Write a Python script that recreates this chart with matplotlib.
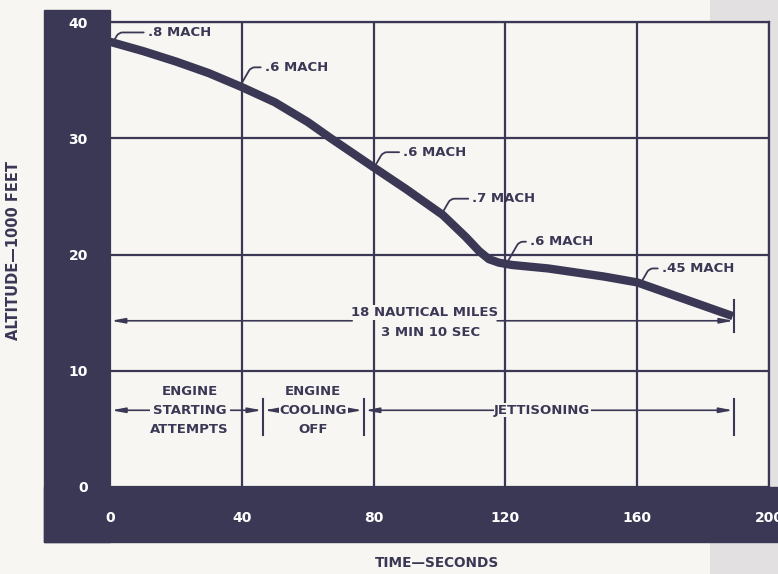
import matplotlib.pyplot as plt
from matplotlib.patches import Rectangle

# curve (seconds, thousands of feet)
time_s = [0, 10, 20, 30, 40, 50, 60, 67, 80, 90, 101, 108, 112, 115, 118, 122, 133, 150, 160, 170, 180, 189]
alt_kft = [38.3, 37.5, 36.6, 35.6, 34.4, 33.1, 31.4, 30.0, 27.5, 25.6, 23.4, 21.5, 20.3, 19.6, 19.3, 19.1, 18.8, 18.1, 17.6, 16.6, 15.6, 14.7]

# mach labels: label, point on curve, label position
mach_labels = [".8 MACH", ".6 MACH", ".6 MACH", ".7 MACH", ".6 MACH", ".45 MACH"]
mach_pts = [(0.8, 38.2), (39.5, 34.5), (80, 27.4), (100.5, 23.4), (120.5, 19.3), (161, 17.5)]
mach_txt = [(11.5, 39.1), (47, 36.1), (89, 28.8), (110, 24.8), (127.5, 21.1), (167.5, 18.8)]

# phase markers along the bottom
phase_bounds = [0, 46.5, 77, 189.5]
phase_labels = ["ENGINE\nSTARTING\nATTEMPTS", "ENGINE\nCOOLING\nOFF", "JETTISONING"]
phase_centers = [24.2, 61.7, 131.2]
phase_text_edges = [(12.3, 35.8), (49.0, 72.2), (116.8, 145.6)]

xticks = [0, 40, 80, 120, 160, 200]
yticks = [0, 10, 20, 30, 40]

ink = "#3b3856"
paper = "#f8f6f2"
plt.rcParams['font.family'] = ['DejaVu Sans']
plt.rcParams['font.weight'] = 'bold'
plt.rcParams['hatch.color'] = '#b9b6b6'

W, H = 778, 574
fig = plt.figure(figsize=(W / 100, H / 100), dpi=100, facecolor=paper)

# gray halftone strip at the right, dark L-shaped frame
fig.patches.append(Rectangle((710 / W, 0), (W - 710) / W, 1, transform=fig.transFigure,
                             facecolor="#e2e0e0", edgecolor="none", hatch="....", zorder=-3))
fig.patches.append(Rectangle((44 / W, 32 / H), (W - 44) / W, 55 / H, transform=fig.transFigure,
                             color=ink, zorder=-2))
fig.patches.append(Rectangle((44 / W, 32 / H), 66 / W, 532 / H, transform=fig.transFigure,
                             color=ink, zorder=-2))

ax = fig.add_axes([110 / W, 87 / H, 659 / W, 465 / H])
ax.set_facecolor(paper)
ax.set_xlim(0, 200)
ax.set_ylim(0, 40)
ax.set_xticks(xticks)
ax.set_yticks(yticks)
ax.tick_params(length=0, colors="white", labelsize=10)
ax.tick_params(axis="y", pad=16)
ax.tick_params(axis="x", pad=17)
for lab in ax.get_xticklabels() + ax.get_yticklabels():
    lab.set_fontweight("bold")
ax.grid(True, color=ink, lw=1.6)
for side in ["left", "bottom"]:
    ax.spines[side].set_visible(False)
for side in ["top", "right"]:
    ax.spines[side].set_color(ink)
    ax.spines[side].set_linewidth(1.6)

ax.plot(time_s, alt_kft, color=ink, lw=6, solid_capstyle="butt", solid_joinstyle="round", zorder=5)

for lab, pt, tp in zip(mach_labels, mach_pts, mach_txt):
    ax.annotate(lab, xy=pt, xytext=tp, ha="left", va="center", fontsize=9.5, color=ink,
                fontweight="bold",
                arrowprops=dict(arrowstyle="-", color=ink, lw=1.3, shrinkA=1, shrinkB=0,
                                connectionstyle="angle,angleA=0,angleB=60,rad=4"), zorder=6)

# distance annotation
arr = dict(arrowstyle="-|>,head_length=0.8,head_width=0.15", color=ink, lw=1.2, shrinkA=0, shrinkB=0)
yd = 14.3
ax.annotate("", xy=(0.3, yd), xytext=(73.5, yd), arrowprops=arr)
ax.annotate("", xy=(189.3, yd), xytext=(117.5, yd), arrowprops=arr)
ax.plot([189.5, 189.5], [13.3, 16.1], color=ink, lw=1.5)
ax.text(95.5, 15.0, "18 NAUTICAL MILES", ha="center", va="center", fontsize=9.5, color=ink,
        fontweight="bold", bbox=dict(boxstyle="square,pad=0.1", fc=paper, ec="none"), zorder=4)
ax.text(97.2, 13.3, "3 MIN 10 SEC", ha="center", va="center", fontsize=9.5, color=ink,
        fontweight="bold", zorder=4)

# phase arrows
yp = 6.6
for i, lab in enumerate(phase_labels):
    a, b = phase_bounds[i], phase_bounds[i + 1]
    left_edge, right_edge = phase_text_edges[i]
    ax.annotate("", xy=(a + 0.4, yp), xytext=(left_edge, yp), arrowprops=arr)
    ax.annotate("", xy=(b - 0.4, yp), xytext=(right_edge, yp), arrowprops=arr)
    ax.text(phase_centers[i], yp, lab, ha="center", va="center", fontsize=9.5, color=ink,
            fontweight="bold", linespacing=1.6,
            bbox=dict(boxstyle="square,pad=0.05", fc=paper, ec="none"), zorder=4)
for b in phase_bounds[1:]:
    ax.plot([b, b], [4.5, 7.6], color=ink, lw=1.5)

fig.text(14 / W, 1 - 250 / H, "ALTITUDE\u20141000 FEET", rotation=90, ha="center", va="center",
         fontsize=10.5, color=ink, fontweight="bold")
fig.text(437 / W, 1 - 563 / H, "TIME\u2014SECONDS", ha="center", va="center",
         fontsize=9.8, color=ink, fontweight="bold")

fig.savefig("out.png", dpi=100, facecolor=paper)
